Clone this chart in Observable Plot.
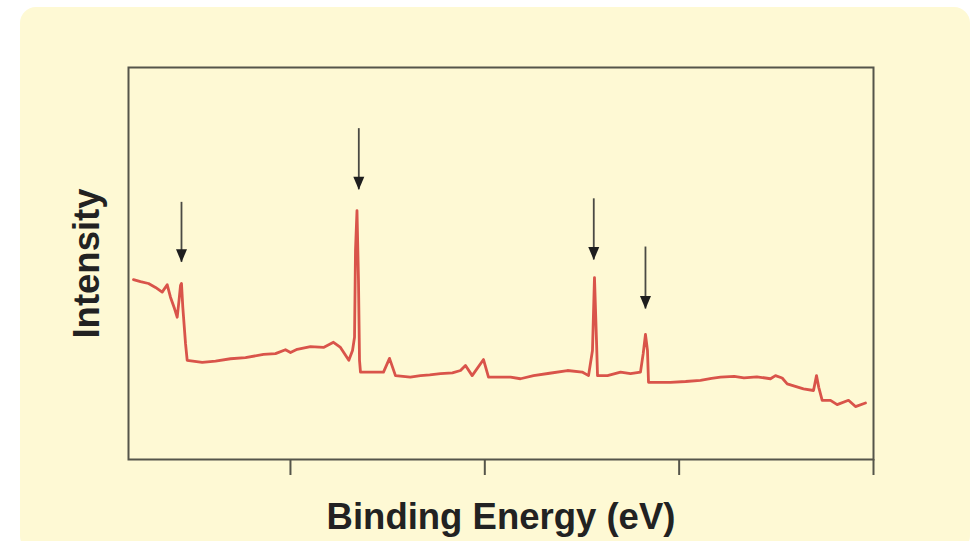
<!DOCTYPE html>
<html>
<head>
<meta charset="utf-8">
<script src="https://cdn.jsdelivr.net/npm/d3@7"></script>
<script src="https://cdn.jsdelivr.net/npm/@observablehq/plot@0.6"></script>
<style>
  html, body { margin: 0; padding: 0; background: #ffffff; width: 977px; height: 541px; overflow: hidden; }
  #panel { position: absolute; left: 20px; top: 7px; width: 950px; height: 545px; border-radius: 16px; background: #fef9d4; }
  #chart { position: absolute; left: 0; top: 0; }
</style>
</head>
<body>
<div id="panel"></div>
<div id="chart"></div>
<script>
// Binding energy (eV) (axis reversed: high BE on the left)
const bindingEnergy = [
  1142.3, 1131.5, 1119.1, 1108.3, 1098.0, 1090.3, 1085.2, 1079.0, 1074.8, 1072.0,
  1069.7, 1068.2, 1066.2, 1062.0, 1059.4, 1036.2, 1015.7, 992.6, 969.4, 941.6,
  923.1, 907.7, 899.9, 889.6, 869.1, 849.0, 833.6, 822.8, 809.9, 804.2,
  801.1, 799.6, 797.3, 795.0, 793.4, 791.9, 756.4, 747.1, 737.9, 715.0,
  699.3, 685.0, 668.4, 650.0, 637.5, 629.8, 619.5, 602.0, 594.3, 560.3,
  545.0, 524.8, 500.0, 472.4, 449.7, 439.9, 433.8, 430.7, 427.6, 426.0,
  410.6, 390.5, 375.1, 359.7, 355.5, 352.0, 348.9, 347.3, 313.4, 290.0,
  267.1, 250.0, 236.2, 215.0, 200.0, 180.0, 159.0, 151.3, 141.0, 133.2,
  108.1, 92.6, 88.0, 84.5, 79.2, 66.4, 56.1, 38.6, 27.8, 12.4
];
// Intensity (arbitrary units)
const intensity = [
  45.9, 45.4, 44.9, 43.9, 42.7, 44.6, 41.4, 38.5, 36.3, 40.6,
  44.4, 44.9, 38.9, 29.6, 25.3, 24.8, 25.1, 25.7, 26.0, 26.8,
  27.0, 28.0, 27.3, 28.1, 28.8, 28.6, 29.9, 28.6, 25.3, 27.8,
  31.2, 53.3, 63.5, 45.7, 25.3, 22.3, 22.3, 25.8, 21.4, 21.0,
  21.4, 21.6, 21.9, 22.1, 22.7, 24.0, 21.4, 25.5, 21.0, 21.0,
  20.6, 21.4, 22.0, 22.7, 22.3, 21.4, 27.8, 46.4, 30.4, 21.4,
  21.4, 22.3, 21.9, 22.3, 27.0, 31.9, 27.8, 19.7, 19.7, 19.9,
  20.2, 20.7, 21.0, 21.2, 20.8, 21.1, 20.6, 21.4, 20.8, 19.3,
  18.0, 17.6, 21.4, 18.4, 15.1, 15.1, 14.0, 15.1, 13.5, 14.4
];
// Arrows marking the labelled peaks
const arrowEnergy = [1068.2, 794.5, 431.8, 352.0];
const arrowTop = [65.6, 84.4, 66.5, 54.2];
const arrowTip = [50.3, 68.8, 50.9, 38.4];
// Tick positions on the energy axis (unlabelled)
const xTicks = [900, 600, 300, 0];

const spectrum = bindingEnergy.map((e, i) => ({e, i: intensity[i]}));
const arrows = arrowEnergy.map((e, i) => ({e, top: arrowTop[i], tip: arrowTip[i]}));

const downTriangle = {
  draw(context) {
    context.moveTo(0, 0);
    context.lineTo(-5.5, -13);
    context.lineTo(5.5, -13);
    context.closePath();
  }
};

const axisColor = "#55554a";

const chart = Plot.plot({
  width: 977,
  height: 541,
  marginLeft: 128,
  marginRight: 104,
  marginTop: 67,
  marginBottom: 82,
  style: {background: "transparent", fontFamily: "'Liberation Sans', Arial, sans-serif"},
  x: {domain: [1150, 0]},
  y: {domain: [0, 100], axis: null},
  marks: [
    Plot.frame({stroke: axisColor, strokeWidth: 2}),
    Plot.axisX({ticks: xTicks, tickSize: 16, tickFormat: () => "", label: null, stroke: axisColor, strokeWidth: 2}),
    Plot.line(spectrum, {x: "e", y: "i", stroke: "#d9544a", strokeWidth: 2.8, strokeLinejoin: "round"}),
    Plot.ruleX(arrows, {x: "e", y1: "top", y2: "tip", stroke: "#4a4a44", strokeWidth: 1.8}),
    Plot.dot(arrows, {x: "e", y: "tip", symbol: downTriangle, fill: "#1e1e1e", stroke: "none"}),
    Plot.text(["Binding Energy (eV)"], {frameAnchor: "bottom", dy: 69, fontSize: 36.5, fontWeight: "bold", fill: "#222"}),
    Plot.text(["Intensity"], {frameAnchor: "left", textAnchor: "middle", dx: -41, rotate: -90, fontSize: 36.5, fontWeight: "bold", fill: "#222"})
  ]
});
document.getElementById("chart").appendChild(chart);
</script>
</body>
</html>
